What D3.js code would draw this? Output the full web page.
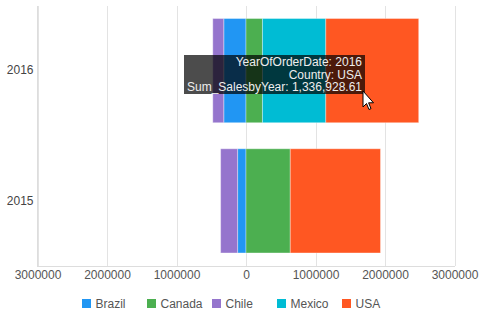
<!DOCTYPE html>
<html><head><meta charset="utf-8">
<script src="https://cdn.jsdelivr.net/npm/d3@7"></script>
<style>
html,body{margin:0;padding:0;background:#fff;}
svg{display:block;font-family:"Liberation Sans",Arial,sans-serif;}
</style></head>
<body><svg id="c" width="486" height="329"></svg>
<script>
const years = ['2016', '2015'];
const countries = ['Brazil', 'Canada', 'Chile', 'Mexico', 'USA'];
const brazil = [-320000, -121000];
const canada = [237000, 637000];
const chile = [-158000, -244000];
const mexico = [911000, 0];
const usa = [1336928.61, 1298000];
const colors = ['#2196F3', '#4CAF50', '#9575CD', '#00BCD4', '#FF5722'];
const tickValues = [-3000000, -2000000, -1000000, 0, 1000000, 2000000, 3000000];
const tooltipLines = ['YearOfOrderDate: 2016', 'Country: USA', 'Sum_SalesbyYear: 1,336,928.61'];

const series = [brazil, canada, chile, mexico, usa];
const rows = years.map((y, i) => {
  const r = {year: y};
  countries.forEach((c, j) => r[c] = series[j][i]);
  return r;
});

const svg = d3.select('#c');
const x = d3.scaleLinear().domain([-3000000, 3000000]).range([37.5, 454.5]);
const y = d3.scaleBand().domain(years).range([5.5, 266]).paddingInner(0.2).paddingOuter(0.1);
const color = d3.scaleOrdinal().domain(countries).range(colors);

// gridlines
svg.append('g').selectAll('line').data(tickValues).join('line')
  .attr('x1', d => Math.round(x(d)) + 0.5).attr('x2', d => Math.round(x(d)) + 0.5)
  .attr('y1', 6).attr('y2', 266)
  .attr('stroke', '#e3e3e3').attr('stroke-width', 1);

// y axis line
svg.append('line').attr('x1', 37.5).attr('x2', 37.5).attr('y1', 6).attr('y2', 266).attr('stroke', '#ddd');
// x axis line
svg.append('line').attr('x1', 37).attr('x2', 455).attr('y1', 266.5).attr('y2', 266.5).attr('stroke', '#ddd');

const stack = d3.stack().keys(countries).offset(d3.stackOffsetDiverging)(rows);

svg.append('g').selectAll('g').data(stack).join('g')
  .attr('fill', d => color(d.key))
  .selectAll('rect').data(d => d.filter(p => p[1] - p[0] !== 0)).join('rect')
  .attr('x', d => x(d[0]))
  .attr('width', d => x(d[1]) - x(d[0]))
  .attr('y', d => y(d.data.year))
  .attr('height', y.bandwidth())
  .attr('stroke', 'rgba(255,255,255,0.35)').attr('stroke-width', 1);

// x axis labels
const xAxis = d3.axisBottom(x).tickValues(tickValues).tickSize(0).tickPadding(0)
  .tickFormat(d => String(Math.abs(d)));
const gx = svg.append('g').attr('transform', 'translate(0,266)').call(xAxis);
gx.select('.domain').remove();
gx.selectAll('text').attr('dy', null).attr('y', 13).attr('fill', '#555')
  .style('font-size', '12px').style('font-family', '"Liberation Sans",Arial,sans-serif');

// y axis labels
const yAxis = d3.axisLeft(y).tickSize(0).tickPadding(4);
const gy = svg.append('g').attr('transform', 'translate(37.5,0)').call(yAxis);
gy.select('.domain').remove();
gy.selectAll('text').attr('x', -4).attr('fill', '#444')
  .style('font-size', '12px').style('font-family', '"Liberation Sans",Arial,sans-serif');

// legend
const lg = svg.append('g').selectAll('g').data(countries).join('g')
  .attr('transform', (d, i) => `translate(${82 + i * 65},299)`);
lg.append('rect').attr('width', 9).attr('height', 9).attr('fill', d => color(d));
lg.append('text').attr('x', 13.5).attr('y', 8.5).text(d => d)
  .attr('fill', '#555').style('font-size', '12px');

// tooltip
const tt = svg.append('g');
tt.append('rect').attr('x', 184).attr('y', 55).attr('width', 181).attr('height', 39)
  .attr('fill', 'rgba(0,0,0,0.7)');
tt.selectAll('text').data(tooltipLines).join('text')
  .attr('x', 362).attr('y', (d, i) => 66 + i * 12.5)
  .attr('text-anchor', 'end').attr('fill', '#eee').style('font-size', '12px').text(d => d);

// mouse cursor
svg.append('path')
  .attr('d', 'M363,91 L363,107 L366.5,103.5 L369,109.5 L371,108.6 L368.6,102.8 L373.5,102.8 Z')
  .attr('fill', '#fff').attr('stroke', '#000').attr('stroke-width', 1).attr('stroke-linejoin', 'round');
</script></body></html>
